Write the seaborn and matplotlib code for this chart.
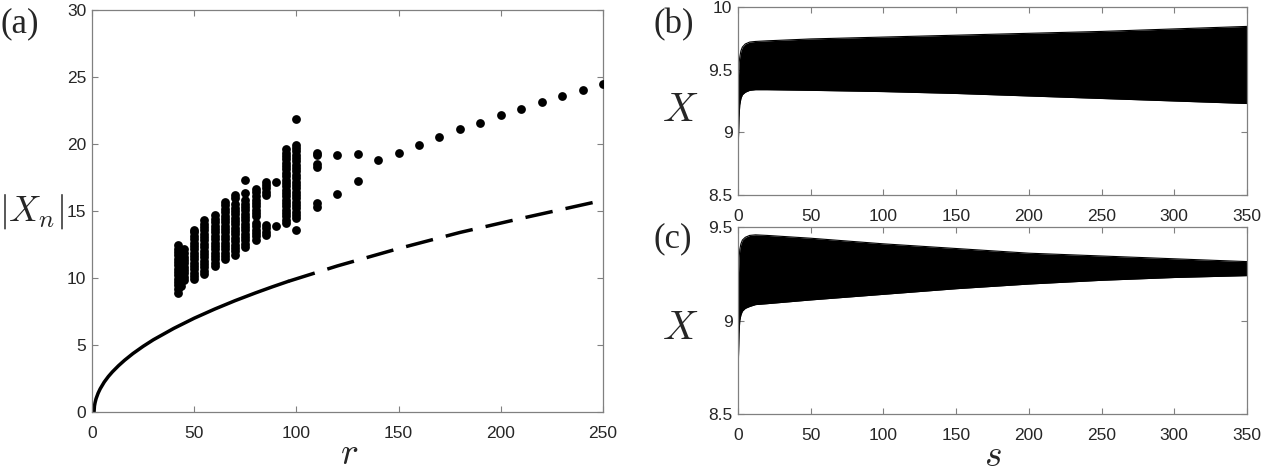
import matplotlib
matplotlib.use("Agg")
import matplotlib.pyplot as plt
from matplotlib.ticker import FuncFormatter
import seaborn as sns
import numpy as np
import pandas as pd

# ---- panel (a): branch of fixed points, solid (stable) and dashed (unstable)
r_solid = [1, 1.2, 1.5, 2, 3, 4, 6, 8, 10, 13, 16, 20, 25, 30, 40, 50, 60, 70, 80, 88, 96]
x_solid = [0, 0.45, 0.7, 1.0, 1.41, 1.73, 2.24, 2.65, 3.0, 3.46, 3.87, 4.36, 4.9, 5.39,
           6.24, 7.0, 7.68, 8.31, 8.89, 9.33, 9.75]
r_dash = [96, 120, 150, 180, 210, 250]
x_dash = [9.75, 10.9, 12.2, 13.4, 14.45, 15.8]

# ---- panel (a): |X_n| maxima, one list per r value
r_cols = [42, 43.5, 45, 50, 55, 60, 65, 70, 75, 80, 85, 90, 95, 100,
          110, 120, 130, 140, 150, 160, 170, 180, 190, 200, 210, 220, 230, 240, 250]
x_cols = [
    [8.9, 9.2, 9.45, 9.7, 9.95, 10.2, 10.45, 10.7, 10.95, 11.2, 11.45, 11.7, 11.95, 12.2, 12.5],
    [9.4, 9.7, 10.0, 10.3, 10.6, 10.9, 11.2, 11.5, 11.8],
    [9.85, 10.1, 10.35, 10.6, 10.85, 11.1, 11.35, 11.6, 11.85, 12.15],
    [9.9, 10.15, 10.4, 10.65, 10.9, 11.15, 11.4, 11.65, 11.9, 12.15, 12.4, 12.65, 12.9, 13.15, 13.4, 13.6],
    [10.3, 10.55, 10.8, 11.05, 11.3, 11.55, 11.8, 12.05, 12.3, 12.55, 12.8, 13.05, 13.3, 13.55,
     13.8, 14.05, 14.3],
    [10.9, 11.15, 11.4, 11.65, 11.9, 12.15, 12.4, 12.65, 12.9, 13.15, 13.4, 13.65, 13.9, 14.15,
     14.4, 14.7],
    [11.4, 11.65, 11.9, 12.15, 12.4, 12.65, 12.9, 13.15, 13.4, 13.65, 13.9, 14.15, 14.4, 14.65,
     14.9, 15.15, 15.45, 15.7],
    [11.75, 12.0, 12.25, 12.5, 12.75, 13.0, 13.25, 13.5, 13.75, 14.0, 14.25, 14.5, 14.75, 15.0,
     15.25, 15.5, 16.0, 16.2],
    [12.3, 12.55, 12.8, 13.05, 13.3, 13.55, 13.8, 14.05, 14.3, 14.55, 14.8, 15.05, 15.3, 15.55,
     15.8, 16.35, 17.35],
    [12.85, 13.1, 13.35, 13.6, 13.85, 14.1, 14.6, 14.85, 15.1, 15.35, 15.6, 15.85, 16.1, 16.4, 16.65],
    [13.2, 13.45, 13.7, 13.95, 16.2, 16.45, 16.7, 16.95, 17.2],
    [13.9, 17.2],
    [14.1, 14.35, 14.6, 14.85, 15.1, 15.35, 15.6, 15.85, 16.1, 16.35, 16.6, 16.85, 17.1, 17.35,
     17.6, 17.85, 18.1, 18.35, 18.6, 18.85, 19.1, 19.35, 19.6],
    [13.55, 14.45, 14.7, 14.95, 15.2, 15.45, 15.7, 15.95, 16.2, 16.45, 16.7, 16.95, 17.2, 17.45,
     17.7, 17.95, 18.2, 18.45, 18.7, 18.95, 19.2, 19.45, 19.7, 19.95, 21.85],
    [15.3, 15.6, 18.3, 18.5, 19.15, 19.35],
    [16.3, 19.15],
    [17.25, 19.25],
    [18.8], [19.35], [19.95], [20.55], [21.1], [21.6], [22.15], [22.65], [23.1], [23.6], [24.05], [24.5],
]

# ---- panel (b): envelope of the fast oscillation of X(s)
s_b = [0, 0.3, 0.7, 1.2, 2, 3, 5, 8, 12, 20, 50, 100, 150, 200, 250, 300, 350]
b_low = [8.72, 8.95, 9.12, 9.22, 9.27, 9.30, 9.32, 9.335, 9.34, 9.34, 9.335, 9.325, 9.31,
         9.29, 9.27, 9.25, 9.23]
b_high = [9.3, 9.45, 9.55, 9.6, 9.65, 9.68, 9.705, 9.72, 9.725, 9.73, 9.745, 9.76, 9.775,
          9.79, 9.805, 9.825, 9.845]

# ---- panel (c)
s_c = [0, 0.3, 0.7, 1.2, 2, 3, 5, 8, 12, 20, 50, 100, 150, 200, 250, 300, 350]
c_low = [8.52, 8.8, 8.93, 9.0, 9.03, 9.05, 9.065, 9.075, 9.085, 9.09, 9.11, 9.14, 9.17,
         9.195, 9.215, 9.23, 9.24]
c_high = [9.1, 9.25, 9.33, 9.38, 9.41, 9.43, 9.445, 9.455, 9.458, 9.455, 9.44, 9.41, 9.385,
          9.36, 9.345, 9.33, 9.315]

################################################################################
sns.set_theme(style="white")
plt.rcParams["font.family"] = ["Liberation Sans", "DejaVu Sans"]
plt.rcParams["mathtext.fontset"] = "cm"

scat = pd.DataFrame({"r": r_cols, "X": x_cols}).explode("X")
scat["X"] = scat["X"].astype(float)

fig = plt.figure(figsize=(12.62, 4.75), dpi=100)
axA = fig.add_axes([0.0729, 0.1326, 0.4049, 0.8463])
axB = fig.add_axes([0.5848, 0.5895, 0.4033, 0.3958])
axC = fig.add_axes([0.5848, 0.1284, 0.4033, 0.3937])

sns.lineplot(x=r_solid, y=x_solid, ax=axA, color="black", lw=2.5)
sns.lineplot(x=r_dash, y=x_dash, ax=axA, color="black", lw=2.5).lines[-1].set_dashes((8, 3.8))
sns.scatterplot(data=scat, x="r", y="X", ax=axA, color="black", s=40, linewidth=0, zorder=3)

for ax, s, lo, hi in [(axB, s_b, b_low, b_high), (axC, s_c, c_low, c_high)]:
    ax.fill_between(s, lo, hi, color="black", lw=0)
    sns.lineplot(x=s, y=lo, ax=ax, color="black", lw=0.8)
    sns.lineplot(x=s, y=hi, ax=ax, color="black", lw=0.8)

axA.set_xlim(0, 250)
axA.set_ylim(0, 30)
axA.set_xticks(range(0, 251, 50))
axA.set_yticks(range(0, 31, 5))
axB.set_xlim(0, 350)
axB.set_ylim(8.5, 10)
axB.set_yticks([8.5, 9, 9.5, 10])
axC.set_xlim(0, 350)
axC.set_ylim(8.5, 9.5)
axC.set_yticks([8.5, 9, 9.5])
for ax in [axB, axC]:
    ax.set_xticks(range(0, 351, 50))

fmt = FuncFormatter(lambda v, p: "%g" % v)
for ax in [axA, axB, axC]:
    ax.yaxis.set_major_formatter(fmt)
    ax.tick_params(direction="in", length=4, width=0.8, color="#808080", labelsize=12.5,
                   labelcolor="#262626", top=True, right=True, bottom=True, left=True)
    ax.tick_params(axis="x", pad=10)
    ax.tick_params(axis="y", pad=4)
    for sp in ax.spines.values():
        sp.set_color("#808080")
        sp.set_linewidth(0.9)
    ax.set_xlabel("")
    ax.set_ylabel("")

lab = dict(fontsize=29, rotation=0, ha="center", va="center")
axA.set_ylabel(r"$|X_n|$", fontsize=26, rotation=0, ha="center", va="center")
axA.yaxis.set_label_coords(-0.118, 0.5)
axA.set_xlabel(r"$r$", fontsize=27, va="center")
axA.xaxis.set_label_coords(0.503, -0.105)
axB.set_ylabel(r"$X$", **lab)
axB.yaxis.set_label_coords(-0.114, 0.45)
axC.set_ylabel(r"$X$", **lab)
axC.yaxis.set_label_coords(-0.114, 0.46)
axC.set_xlabel(r"$s$", fontsize=27, va="center")
axC.xaxis.set_label_coords(0.5, -0.225)

pan = dict(fontsize=25, family=["Liberation Serif", "DejaVu Serif"], ha="left", va="center")
fig.text(0.0, 0.949, "(a)", **pan)
fig.text(0.518, 0.947, "(b)", **pan)
fig.text(0.518, 0.497, "(c)", **pan)

fig.savefig("out.png", dpi=100)
